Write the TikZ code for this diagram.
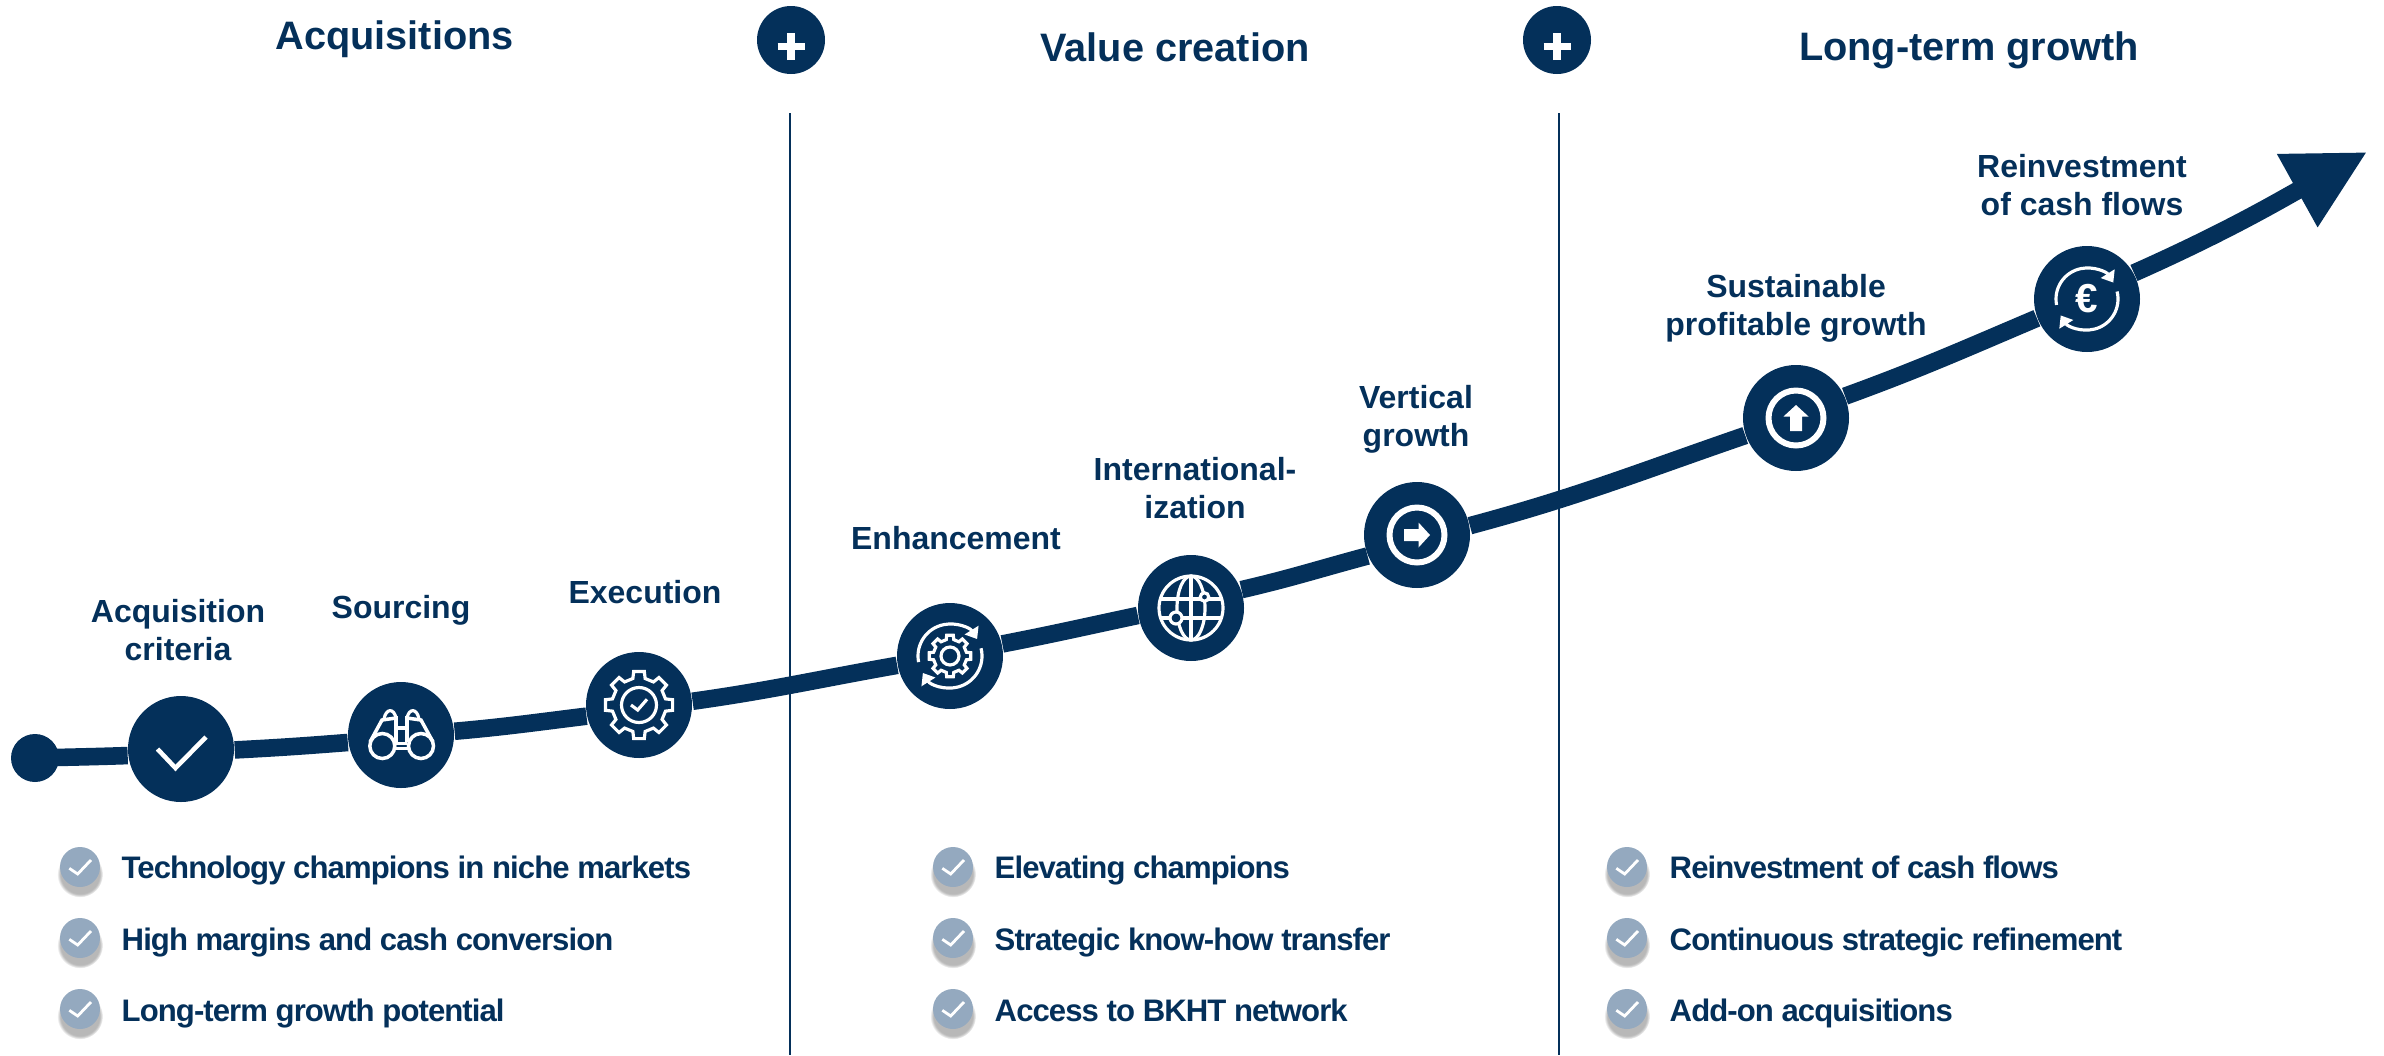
\documentclass[tikz,border=0pt]{standalone}
\usepackage{fontspec}
\setmainfont{Liberation Sans}
\newfontfamily\listfont[LetterSpace=-3]{Liberation Sans}
\usetikzlibrary{arrows.meta,shadows}

\definecolor{navy}{HTML}{04305A}
\definecolor{tickblue}{HTML}{94A9BF}

\tikzset{
  stepdot/.style={circle,fill=navy,minimum size=1.06cm,inner sep=0pt},
  plusdot/.style={circle,fill=navy,minimum size=.68cm,inner sep=0pt},
  tickdot/.style={circle,fill=tickblue,minimum size=.40cm,inner sep=0pt,
    circular drop shadow={shadow xshift=0pt,shadow yshift=-1.8pt,shadow scale=1.15,fill=black,opacity=.28}},
  trackline/.style={navy,line width=5pt},
  divider/.style={navy,line width=.6pt},
  iconline/.style={white,line width=.9pt},
  heading/.style={navy,font=\bfseries\fontsize{11.3}{13}\selectfont},
  steplabel/.style={navy,align=center,font=\bfseries\fontsize{9.1}{10.8}\selectfont},
  listlabel/.style={navy,anchor=base west,inner sep=0pt,font=\listfont\bfseries\fontsize{8.85}{10}\selectfont},
  %small white tick
  tickmark/.pic={\draw[white,line width=.8pt] (-.107,-.013) -- (-.023,-.07) -- (.11,.07);},
  %plus sign
  plusicon/.pic={\draw[white,line width=2.1pt] (-.135,-.065) -- (.135,-.065) (0,-.2) -- (0,.07);},
  %cog outline, radius 1
  cogicon/.pic={\draw[iconline] (-9:1) -- (9:1) -- (13:.8) -- (32:.8) -- (36:1) -- (54:1) -- (58:.8) -- (77:.8)
    -- (81:1) -- (99:1) -- (103:.8) -- (122:.8) -- (126:1) -- (144:1) -- (148:.8) -- (167:.8)
    -- (171:1) -- (189:1) -- (193:.8) -- (212:.8) -- (216:1) -- (234:1) -- (238:.8) -- (257:.8)
    -- (261:1) -- (279:1) -- (283:.8) -- (302:.8) -- (306:1) -- (324:1) -- (328:.8) -- (347:.8) -- cycle;},
  %two arcs chasing each other, radius 1
  cycleicon/.pic={
    \draw[iconline,-{Triangle[length=3pt,width=4.5pt]}] (191:1) arc[start angle=191,end angle=32,radius=1];
    \draw[iconline,-{Triangle[length=3pt,width=4.5pt]}] (14:1) arc[start angle=14,end angle=-148,radius=1];},
  %ring with block arrow
  ringicon/.pic={
    \draw[white,line width=1.7pt] (0,0) circle (.275);
    \fill[white] (-.13,-.06) -- (.015,-.06) -- (.015,-.125) -- (.13,0) -- (.015,.125) -- (.015,.06) -- (-.13,.06) -- cycle;},
}

\begin{document}
\begin{tikzpicture}
\useasboundingbox (0,0) rectangle (23.84,10.55);

%headings
\node[heading] (acqhead) at (3.945,10.16) {Acquisitions};
\node[heading] (valuehead) at (11.75,10.08) {Value creation};
\node[heading] (longhead) at (19.69,10.05) {Long-term growth};

%plus signs
\node[plusdot] (plus1) at (7.91,10.15) {};
\node[plusdot] (plus2) at (15.57,10.15) {};
\pic at (plus1) {plusicon};
\pic at (plus2) {plusicon};

%dividers
\coordinate (top1) at (7.903,9.42);
\coordinate (bot1) at (7.903,0);
\coordinate (top2) at (15.587,9.42);
\coordinate (bot2) at (15.587,0);
\draw[divider] (top1) -- (bot1);
\draw[divider] (top2) -- (bot2);

%steps on the curve
\node[circle,fill=navy,minimum size=.48cm,inner sep=0pt] (startdot) at (.35,2.97) {};
\node[stepdot] (check) at (1.81,3.06) {};
\node[stepdot] (bino) at (4.01,3.20) {};
\node[stepdot] (exec) at (6.39,3.50) {};
\node[stepdot] (enh) at (9.50,3.99) {};
\node[stepdot] (globe) at (11.91,4.47) {};
\node[stepdot] (vert) at (14.17,5.20) {};
\node[stepdot] (upgr) at (17.96,6.37) {};
\node[stepdot] (euro) at (20.87,7.56) {};
\coordinate (arrowtip) at (23.67,9.03);

%curve
\draw[trackline] (startdot.center) to[out=1.5,in=182] (check.187);
\draw[trackline] (check.359) to[out=3,in=184.5] (bino.188);
\draw[trackline] (bino.4) to[out=5,in=187] (exec.192);
\draw[trackline] (exec.4) to[out=8,in=190] (enh.190);
\draw[trackline] (enh.13) to[out=11,in=192] (globe.188);
\draw[trackline] (globe.20) to[out=13,in=195] (vert.203);
\draw[trackline] (vert.10) to[out=15,in=199] (upgr.199);
\draw[trackline] (upgr.24) to[out=20,in=203] (euro.201);
\draw[trackline,-{Triangle[length=22.7pt,width=22.4pt]}] (euro.29) to[out=24,in=209] (arrowtip);

%step labels
\node[steplabel] (lab1) at (1.78,4.25) {Acquisition\\criteria};
\node[steplabel] (lab2) at (4.01,4.45) {Sourcing};
\node[steplabel] (lab3) at (6.45,4.63) {Execution};
\node[steplabel] (lab4) at (9.56,5.17) {Enhancement};
\node[steplabel] (lab5) at (11.95,5.67) {International-\\ization};
\node[steplabel] (lab6) at (14.16,6.36) {Vertical\\growth};
\node[steplabel] (lab7) at (17.96,7.47) {Sustainable\\profitable growth};
\node[steplabel] (lab8) at (20.82,8.70) {Reinvestment\\of cash flows};

%icon check
\draw[white,line width=1.3pt] (1.575,3.06) -- (1.755,2.87) -- (2.06,3.18);

%icon binoculars
\begin{scope}[shift={(bino)}]
\draw[white,line width=1pt] (-.187,-.11) circle (.125);
\draw[white,line width=1pt] (.2,-.11) circle (.125);
\draw[white,line width=1pt] (-.31,-.07) -- (-.19,.15) -- (-.05,.17) -- (-.05,-.07);
\draw[white,line width=1pt] (.32,-.07) -- (.2,.15) -- (.06,.17) -- (.06,-.07);
\draw[iconline] (-.17,.16) .. controls (-.15,.27) and (-.07,.27) .. (-.05,.17);
\draw[iconline] (.18,.16) .. controls (.16,.27) and (.08,.27) .. (.06,.17);
\draw[iconline] (-.05,.07) -- (.06,.07) (-.05,-.083) -- (.06,-.083) (-.06,-.133) -- (.07,-.133);
\end{scope}

%icon execution
\pic[scale=.34] at (exec) {cogicon};
\begin{scope}[shift={(exec)}]
\draw[iconline] (0,0) circle (.175);
\draw[iconline] (-.08,0) -- (-.013,-.05) -- (.08,.057);
\end{scope}

%icon enhancement
\pic[scale=.21] at (enh) {cogicon};
\draw[iconline] (enh) circle (.09);
\pic[scale=.32] at (enh) {cycleicon};

%icon globe
\begin{scope}[shift={(globe)}]
\draw[iconline] (0,0) circle (.32);
\draw[iconline] (0,0) ellipse (.14 and .32);
\draw[iconline] (0,-.32) -- (0,.32);
\draw[iconline] (-.30,.09) -- (.30,.09) (-.30,-.10) -- (.30,-.10);
\draw[iconline,fill=navy] (.135,.11) circle (.042);
\draw[iconline,fill=navy] (-.15,-.10) circle (.06);
\end{scope}

%icon vertical growth
\pic at (vert) {ringicon};

%icon sustainable growth
\pic[rotate=90] at (upgr) {ringicon};

%icon reinvestment
\pic[scale=.31] at (euro) {cycleicon};
\node[white,font=\bfseries\fontsize{11.5}{12}\selectfont,inner sep=0pt] (eurosign) at (euro) {€};

%list acquisitions
\node[tickdot] (t1) at (.80,1.88) {};
\node[tickdot] (t2) at (.80,1.17) {};
\node[tickdot] (t3) at (.80,.46) {};
\pic at (t1) {tickmark};
\pic at (t2) {tickmark};
\pic at (t3) {tickmark};
\node[listlabel] (l1) at (1.21,1.77) {Technology champions in niche markets};
\node[listlabel] (l2) at (1.21,1.05) {High margins and cash conversion};
\node[listlabel] (l3) at (1.21,.34) {Long-term growth potential};

%list value creation
\node[tickdot] (t4) at (9.53,1.88) {};
\node[tickdot] (t5) at (9.53,1.17) {};
\node[tickdot] (t6) at (9.53,.46) {};
\pic at (t4) {tickmark};
\pic at (t5) {tickmark};
\pic at (t6) {tickmark};
\node[listlabel] (l4) at (9.94,1.77) {Elevating champions};
\node[listlabel] (l5) at (9.94,1.05) {Strategic know-how transfer};
\node[listlabel] (l6) at (9.94,.34) {Access to BKHT network};

%list long-term growth
\node[tickdot] (t7) at (16.27,1.88) {};
\node[tickdot] (t8) at (16.27,1.17) {};
\node[tickdot] (t9) at (16.27,.46) {};
\pic at (t7) {tickmark};
\pic at (t8) {tickmark};
\pic at (t9) {tickmark};
\node[listlabel] (l7) at (16.69,1.77) {Reinvestment of cash flows};
\node[listlabel] (l8) at (16.69,1.05) {Continuous strategic refinement};
\node[listlabel] (l9) at (16.69,.34) {Add-on acquisitions};

\end{tikzpicture}
\end{document}
